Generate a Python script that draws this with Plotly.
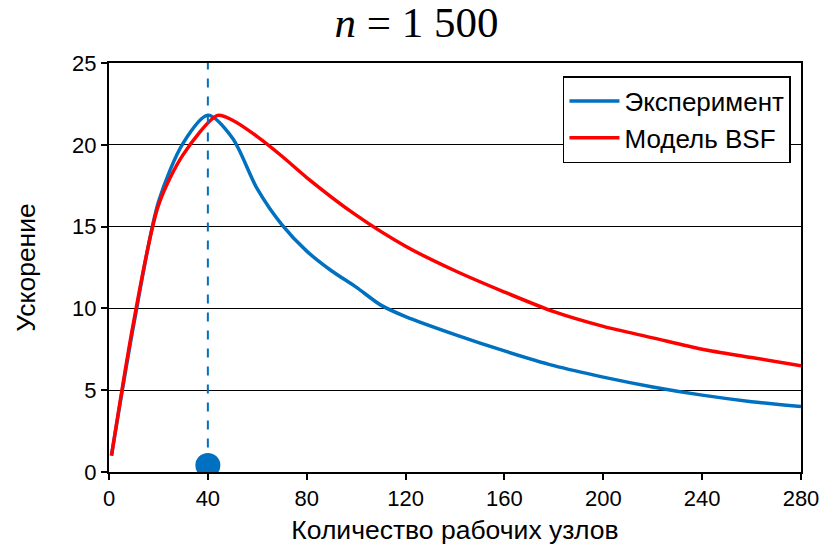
import plotly.graph_objects as go

# Experiment
exp_x = [1, 10, 20, 30, 40, 50, 60, 70, 80, 90, 100, 110, 120, 140, 160, 180, 200, 220, 240, 260, 280]
exp_y = [1.0, 9.0, 16.5, 20.1, 21.8, 20.4, 17.3, 15.1, 13.5, 12.3, 11.3, 10.2, 9.5, 8.4, 7.4, 6.5, 5.8, 5.2, 4.7, 4.3, 4.0]

# BSF model
bsf_x = [1, 10, 20, 30, 44, 50, 60, 70, 80, 100, 120, 140, 160, 180, 200, 220, 240, 260, 280]
bsf_y = [1.0, 9.2, 16.3, 19.4, 21.8, 21.5, 20.5, 19.3, 18.0, 15.7, 13.8, 12.3, 11.0, 9.8, 8.9, 8.2, 7.5, 7.0, 6.5]

peak_x = [40]
peak_y = [0.4]

x_ticks = [0, 40, 80, 120, 160, 200, 240, 280]
y_ticks = [0, 5, 10, 15, 20, 25]

BLUE = "#0070C0"
RED = "#FF0000"
SANS = "Liberation Sans, Arial, sans-serif"

fig = go.Figure()
fig.add_trace(go.Scatter(x=exp_x, y=exp_y, mode="lines", name="Эксперимент",
                         line=dict(color=BLUE, width=3.5, shape="spline", smoothing=0.8)))
fig.add_trace(go.Scatter(x=bsf_x, y=bsf_y, mode="lines", name="Модель BSF",
                         line=dict(color=RED, width=3.5, shape="spline", smoothing=0.8)))
fig.add_trace(go.Scatter(x=[peak_x[0], peak_x[0]], y=[peak_y[0], 25], mode="lines",
                         line=dict(color=BLUE, width=2, dash="dash"), showlegend=False,
                         hoverinfo="skip"))
fig.add_trace(go.Scatter(x=peak_x, y=peak_y, mode="markers",
                         marker=dict(color=BLUE, size=25), showlegend=False))

fig.update_layout(
    width=825, height=550,
    margin=dict(l=109, r=24, t=63, b=78),
    paper_bgcolor="white", plot_bgcolor="white",
    font=dict(family=SANS, size=22, color="black"),
    title=dict(text="<i>n</i> = 1 500", x=0.505, xanchor="center", y=0.96, yanchor="middle",
               font=dict(family="Liberation Serif, Times New Roman, serif", size=43, color="black")),
    legend=dict(x=0.9855, xanchor="right", y=0.968, yanchor="top",
                bordercolor="black", borderwidth=1.5, bgcolor="white",
                font=dict(family=SANS, size=26), tracegroupgap=0, itemwidth=50),
    showlegend=True,
)
fig.update_xaxes(range=[0, 280], tickvals=x_ticks, showgrid=False, zeroline=False,
                 showline=True, linecolor="black", linewidth=2, mirror=True,
                 ticks="outside", ticklen=6, tickcolor="black", tickwidth=1.5,
                 tickfont=dict(family=SANS, size=22), automargin=False,
                 title=dict(text="Количество рабочих узлов", standoff=10,
                            font=dict(family=SANS, size=26.5)))
fig.update_yaxes(range=[0, 25], tickvals=y_ticks, showgrid=True, gridcolor="black", gridwidth=1,
                 zeroline=False, showline=True, linecolor="black", linewidth=2, mirror=True,
                 ticks="outside", ticklen=6, tickcolor="black", tickwidth=1.5,
                 tickfont=dict(family=SANS, size=22), automargin=False,
                 title=dict(text="Ускорение", standoff=29, font=dict(family=SANS, size=26.5)))

fig.write_html("out.html", config={"displayModeBar": False},
               post_script="document.body.style.margin='0';document.body.style.padding='0';")
